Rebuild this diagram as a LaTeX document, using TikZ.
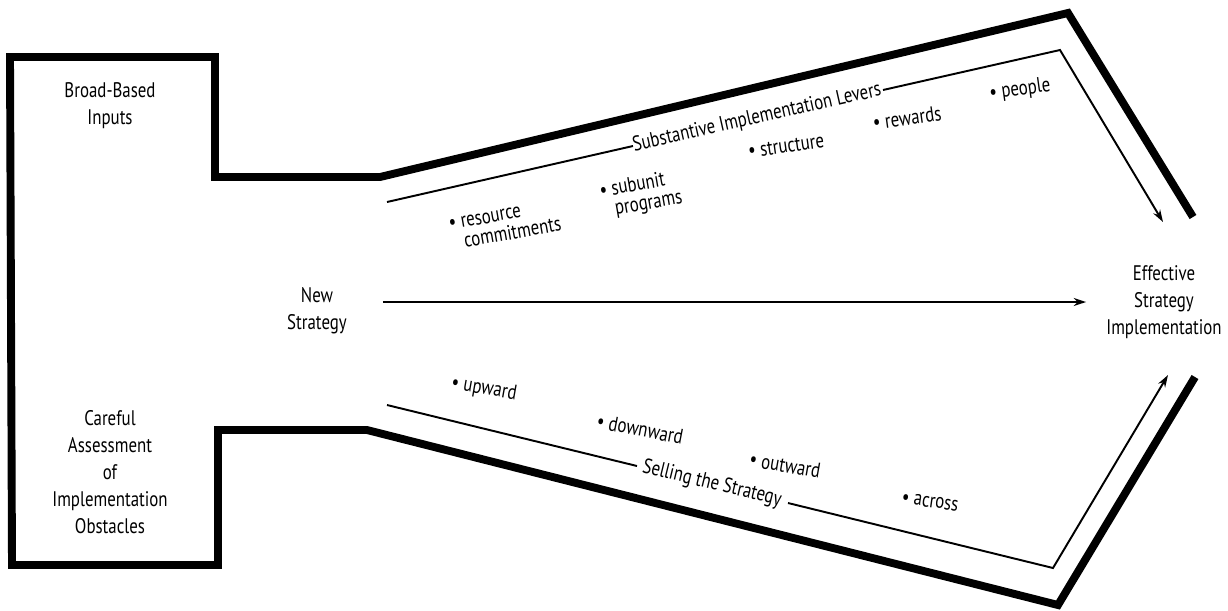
\documentclass[tikz,border=0pt]{standalone}
\usepackage{fontspec}
\setmainfont{PT Sans}[FakeStretch=0.8]
\usetikzlibrary{arrows.meta}

\newcommand{\itm}{\textbullet~}
\newcommand{\itmgap}{\hphantom{\textbullet~}}

\begin{document}
\begin{tikzpicture}[x=0.02cm,y=-0.02cm,
  frame/.style={line width=4.5pt,line join=miter},
  guide/.style={line width=1.1pt},
  lbl/.style={align=center,font=\fontsize{12}{15.3}\selectfont},
  lever/.style={align=left,font=\fontsize{12}{11.5}\selectfont,inner sep=1pt},
  >={Stealth[length=7pt,width=4.5pt]}]
\useasboundingbox (0,0) rectangle (1228,610);

% outer frame
\draw[frame] (1193,217) -- (1068,13) -- (380,177) -- (215,177) -- (215,57)
  -- (10,57) -- (12,565) -- (218,565) -- (218,430) -- (367,430)
  -- (1058,605) -- (1195,377);

% box texts
\node[lbl] (inputs) at (110,106) {Broad-Based\\Inputs};
\node[lbl] (obstacles) at (110,472) {Careful\\Assessment\\of\\Implementation\\Obstacles};
\node[lbl] (news) at (317,311) {New\\Strategy};
\node[lbl] (eff) at (1164,302) {Effective\\Strategy\\Implementation};

% upper guide
\coordinate (ua) at (387,202);
\coordinate (ua2) at (633,146);
\coordinate (ub2) at (883,90);
\coordinate (ub) at (1060,50);
\coordinate (uc) at (1163,222);
\node[lbl,rotate=12.7,inner sep=0pt] (levers) at (757,118) {Substantive Implementation Levers};
\draw[guide] (ua) -- (ua2);
\draw[guide,->] (ub2) -- (ub) -- (uc);

% lower guide
\coordinate (la) at (387,405);
\coordinate (la2) at (637,466);
\coordinate (lb2) at (788,503);
\coordinate (lb) at (1053,568);
\coordinate (lc) at (1168,375);
\node[lbl,rotate=-13.7,inner sep=0pt] (selling) at (712,484) {Selling the Strategy};
\draw[guide] (la) -- (la2);
\draw[guide,->] (lb2) -- (lb) -- (lc);

% main arrow
\draw[guide,->,shorten <=17pt,shorten >=8pt] (news.east |- eff.west) -- (eff.west);

% levers
\node[lever,rotate=10] (resource) at (505,225) {\itm resource\\\itmgap commitments};
\node[lever,rotate=10] (subunit) at (641,195) {\itm subunit\\\itmgap programs};
\node[lever,rotate=8] (structure) at (786,146) {\itm structure};
\node[lever,rotate=8] (rewards) at (907,118) {\itm rewards};
\node[lever,rotate=8] (people) at (1020,90) {\itm people};

% selling directions
\node[lever,rotate=-10] (upward) at (484,389) {\itm upward};
\node[lever,rotate=-11] (downward) at (640,429) {\itm downward};
\node[lever,rotate=-10] (outward) at (785,465) {\itm outward};
\node[lever,rotate=-8] (across) at (930,502) {\itm across};
\end{tikzpicture}
\end{document}
